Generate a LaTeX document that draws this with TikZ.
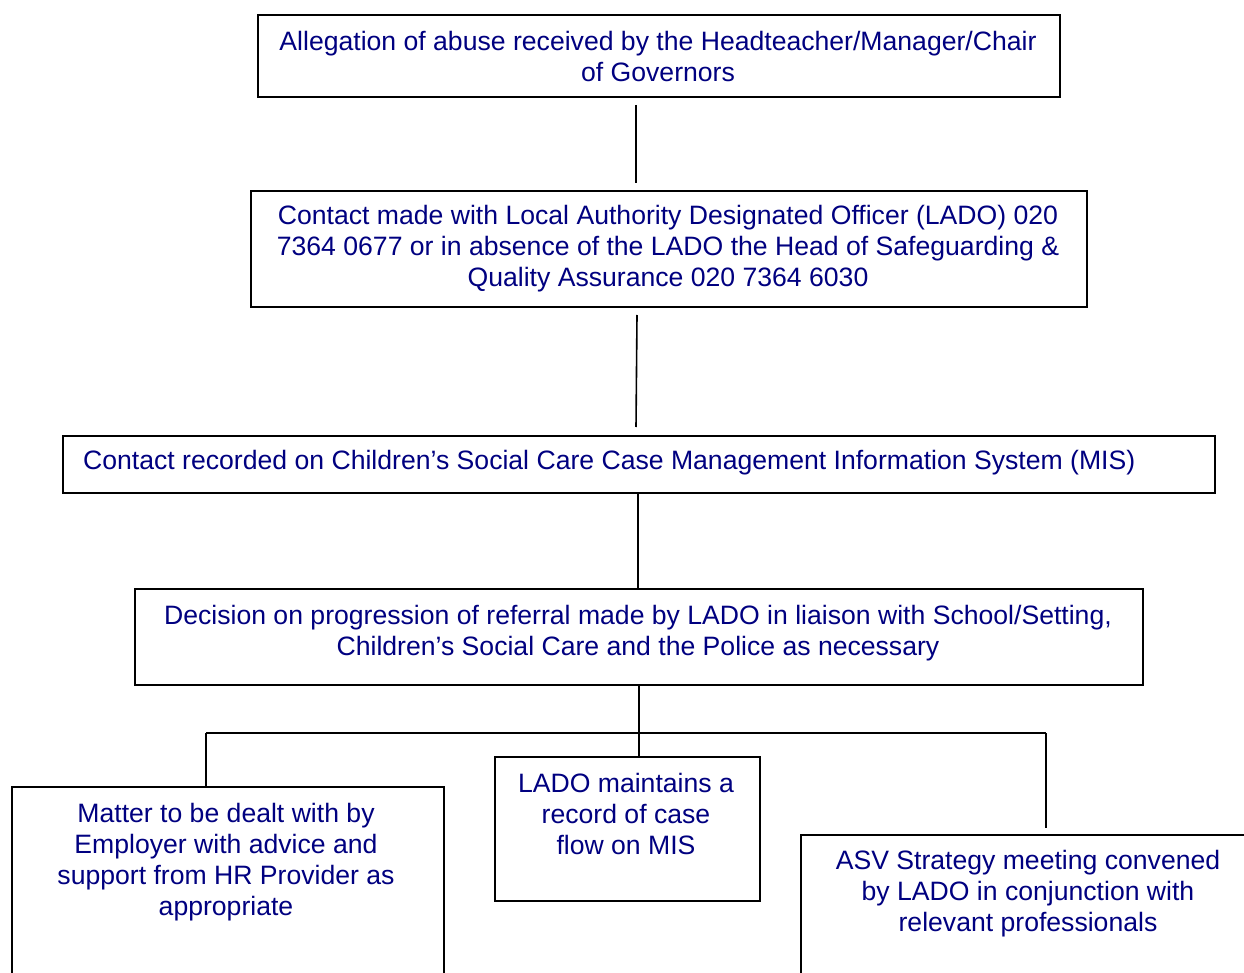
\documentclass[tikz,border=0pt]{standalone}
\usepackage{fontspec}
\setmainfont{Liberation Sans}
\definecolor{navy}{RGB}{0,0,128}
\begin{document}
\begin{tikzpicture}[x=1pt,y=-1pt,
  box/.style={draw=black,line width=1.6pt,fill=none,inner sep=0pt,anchor=north west},
  txt/.style={text=navy,align=center,inner sep=0pt,font=\fontsize{26.6}{31}\selectfont},
  conn/.style={draw=black,line width=1.6pt}]
\clip (0,0) rectangle (1244,973);
\fill[white] (0,0) rectangle (1244,973);
% boxes
\node[box,minimum width=802pt,minimum height=82pt] (b1) at (257,14) {};
\node[box,minimum width=836pt,minimum height=116pt] (b2) at (250,190) {};
\node[box,minimum width=1152pt,minimum height=57pt] (b3) at (62,435) {};
\node[box,minimum width=1008pt,minimum height=96pt] (b4) at (134,588) {};
\node[box,minimum width=432pt,minimum height=220pt] (b5) at (11,786) {};
\node[box,minimum width=265pt,minimum height=144pt] (b6) at (494,756) {};
\node[box,minimum width=470pt,minimum height=180pt] (b7) at (800,834) {};
% texts
\node[txt] (t1) at (658,56) {Allegation of abuse received by the Headteacher/Manager/Chair\\of Governors};
\node[txt] (t2) at (668,249) {Contact made with Local Authority Designated Officer (LADO) 020\\7364 0677 or in absence of the LADO the Head of Safeguarding \&\\Quality Assurance 020 7364 6030};
\node[txt,anchor=west] (t3) at (83,463) {Contact recorded on Children’s Social Care Case Management Information System (MIS)};
\node[txt] (t4) at (638,633) {Decision on progression of referral made by LADO in liaison with School/Setting,\\Children’s Social Care and the Police as necessary};
\node[txt] (t5) at (226,862) {Matter to be dealt with by\\Employer with advice and\\support from HR Provider as\\appropriate};
\node[txt] (t6) at (626,814) {LADO maintains a\\record of case\\flow on MIS};
\node[txt] (t7) at (1028,894) {ASV Strategy meeting convened\\by LADO in conjunction with\\relevant professionals};
% connectors
\coordinate (c1a) at (636,105);
\coordinate (c1b) at (636,183);
\coordinate (c2a) at (637,315);
\coordinate (c2b) at (636,427);
\coordinate (hl) at (206,733);
\coordinate (hr) at (1046,733);
\coordinate (c7) at (1046,828);
\draw[conn] (c1a) -- (c1b);
\draw[conn] (c2a) -- (c2b);
\draw[conn] (b3.south -| 638,0) -- (b4.north -| 638,0);
\draw[conn] (b4.south -| 639,0) -- (b6.north -| 639,0);
\draw[conn] (hl) -- (hr);
\draw[conn] (hl) -- (b5.north -| hl);
\draw[conn] (hr) -- (c7);
\end{tikzpicture}
\end{document}
